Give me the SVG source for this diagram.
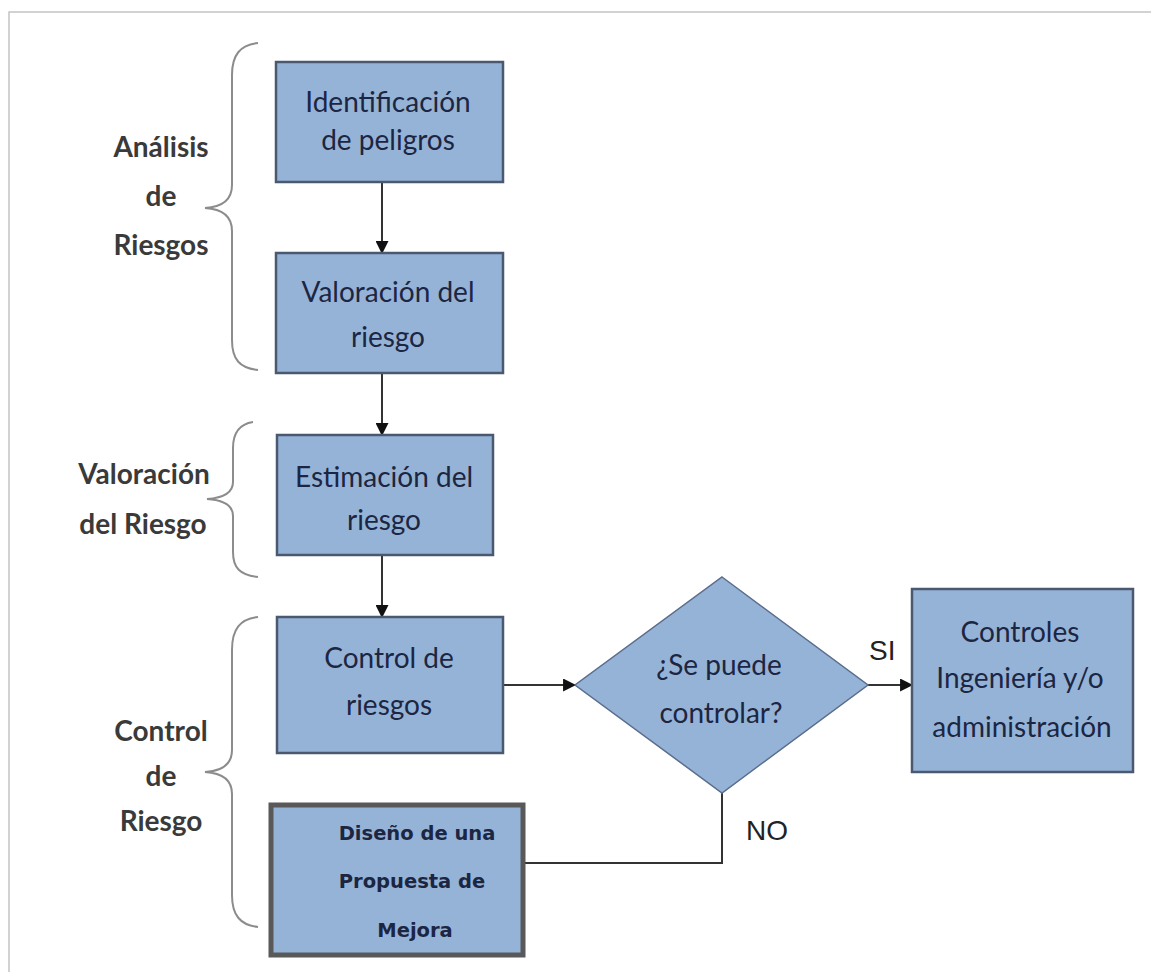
<svg xmlns="http://www.w3.org/2000/svg" width="1151" height="972" viewBox="0 0 1151 972">
<style>
.box{fill:#95b3d7;stroke:#4a5870;stroke-width:2.5}
.thick{fill:#95b3d7;stroke:#595959;stroke-width:5}
.t{font-family:Lato,"Liberation Sans",sans-serif;font-size:28px;fill:#1c2642;text-anchor:middle}
.lbl{font-family:Lato,"Liberation Sans",sans-serif;font-size:28px;font-weight:bold;fill:#3a3a3a;text-anchor:middle}
.b{font-family:"DejaVu Sans",Verdana,sans-serif;font-size:19.5px;font-weight:bold;fill:#1c2642;text-anchor:middle}
.yn{font-family:"Liberation Sans",Arial,sans-serif;font-size:28px;fill:#222}
.con{fill:none;stroke:#333;stroke-width:2}
.brace{fill:none;stroke:#8c8c8c;stroke-width:2}
</style>
<defs>
<marker id="arr" viewBox="0 0 12 12" refX="11" refY="6" markerWidth="13" markerHeight="13" markerUnits="userSpaceOnUse" orient="auto">
<path d="M0,0 L12,6 L0,12 Z" fill="#111"/>
</marker>
</defs>
<rect x="0" y="0" width="1151" height="972" fill="#fff"/>
<rect x="9" y="12" width="1200" height="1000" fill="none" stroke="#c4c4c4" stroke-width="1.5"/>
<g id="braces">
<path class="brace" d="M258,43 C240,45 232,55 232,75 L232,185 C232,200 222,207 205,208 C222,209 232,216 232,231 L232,340 C232,360 240,368 258,370"/>
<path class="brace" d="M253,422 C240,424 233,432 233,448 L233,482 C233,494 222,498 207,499 C222,500 233,504 233,516 L233,552 C233,568 240,575 258,577"/>
<path class="brace" d="M258,617 C240,619 232,629 232,650 L232,750 C232,764 222,771 205,772 C222,773 232,780 232,794 L232,895 C232,915 240,925 258,927"/>
</g>
<g id="labels">
<text class="lbl" x="161" y="157">Análisis</text>
<text class="lbl" x="161" y="206">de</text>
<text class="lbl" x="161" y="255">Riesgos</text>
<text class="lbl" x="144" y="484">Valoración</text>
<text class="lbl" x="143" y="534">del Riesgo</text>
<text class="lbl" x="161" y="741">Control</text>
<text class="lbl" x="161" y="786">de</text>
<text class="lbl" x="161" y="831">Riesgo</text>
</g>
<g id="connectors">
<line class="con" x1="382" y1="182" x2="382" y2="253" marker-end="url(#arr)"/>
<line class="con" x1="382" y1="373" x2="382" y2="435" marker-end="url(#arr)"/>
<line class="con" x1="382" y1="555" x2="382" y2="617" marker-end="url(#arr)"/>
<line class="con" x1="503" y1="685" x2="575" y2="685" marker-end="url(#arr)"/>
<line class="con" x1="868" y1="685" x2="912" y2="685" marker-end="url(#arr)"/>
<polyline class="con" points="722,793 722,863 523,863"/>
<text class="yn" x="869" y="660">SI</text>
<text class="yn" x="746" y="840">NO</text>
</g>
<g id="n1">
<rect class="box" x="276" y="62" width="227" height="120"/>
<text class="t" x="388" y="112">Identificación</text>
<text class="t" x="388" y="150">de peligros</text>
</g>
<g id="n2">
<rect class="box" x="276" y="253" width="227" height="120"/>
<text class="t" x="388" y="302">Valoración del</text>
<text class="t" x="388" y="347">riesgo</text>
</g>
<g id="n3">
<rect class="box" x="277" y="435" width="216" height="120"/>
<text class="t" x="384" y="487">Estimación del</text>
<text class="t" x="384" y="530">riesgo</text>
</g>
<g id="n4">
<rect class="box" x="277" y="617" width="226" height="136"/>
<text class="t" x="389" y="668">Control de</text>
<text class="t" x="389" y="715">riesgos</text>
</g>
<g id="n5">
<rect class="thick" x="271" y="805" width="252" height="150"/>
<text class="b" x="417" y="840">Diseño de una</text>
<text class="b" x="412" y="888">Propuesta de</text>
<text class="b" x="415" y="937">Mejora</text>
</g>
<g id="n6">
<polygon points="722,577 868,685 722,793 575,685" fill="#95b3d7" stroke="#5a6d8c" stroke-width="1.5"/>
<text class="t" x="719" y="675">¿Se puede</text>
<text class="t" x="721" y="723">controlar?</text>
</g>
<g id="n7">
<rect class="box" x="912" y="589" width="221" height="183"/>
<text class="t" x="1020" y="642">Controles</text>
<text class="t" x="1020" y="688">Ingeniería y/o</text>
<text class="t" x="1022" y="737">administración</text>
</g>
</svg>
